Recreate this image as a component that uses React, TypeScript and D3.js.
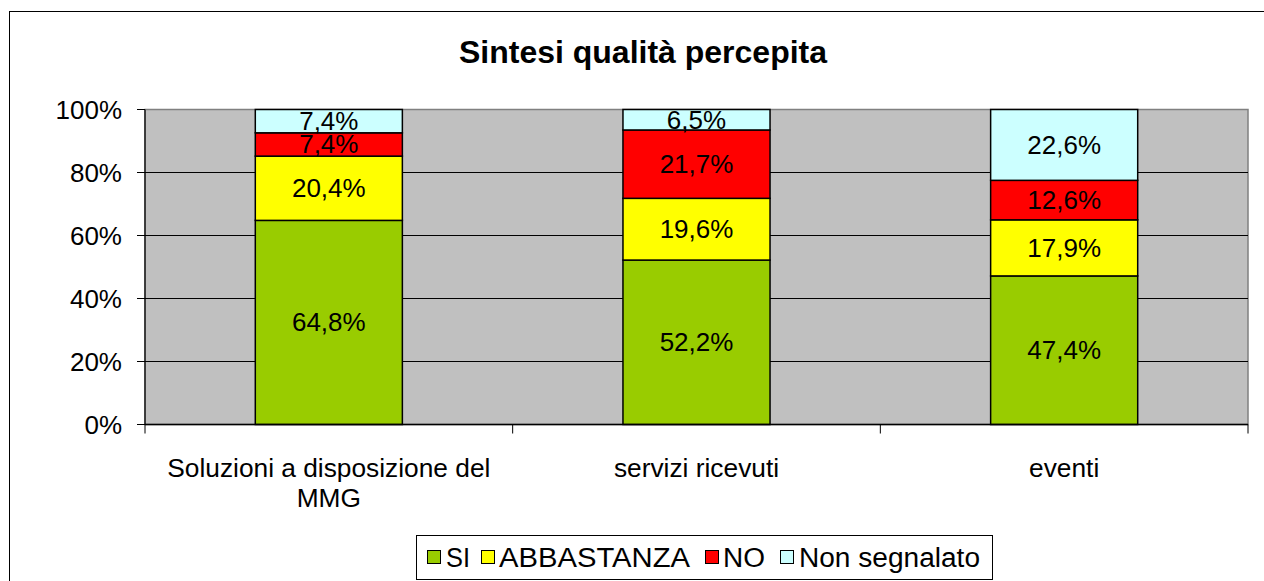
import React from "react";
import * as d3 from "d3";

const categories = ["Soluzioni a disposizione del MMG", "servizi ricevuti", "eventi"];
const categoryLines = [["Soluzioni a disposizione del", "MMG"], ["servizi ricevuti"], ["eventi"]];
const seriesNames = ["SI", "ABBASTANZA", "NO", "Non segnalato"];
const seriesColors = ["#99CC00", "#FFFF00", "#FF0000", "#CCFFFF"];
const siValues = [64.8, 52.2, 47.4];
const abbastanzaValues = [20.4, 19.6, 17.9];
const noValues = [7.4, 21.7, 12.6];
const nonSegnalatoValues = [7.4, 6.5, 22.6];
const yTicks = [0, 0.2, 0.4, 0.6, 0.8, 1];
const title = "Sintesi qualità percepita";

const FONT = "'Liberation Sans', Arial, sans-serif";

export default function App() {
  const W = 1264, H = 581;
  const left = 145, right = 1248, top = 109.5, bottom = 424.5;

  const rows = categories.map((c, i) => ({
    cat: c,
    "SI": siValues[i],
    "ABBASTANZA": abbastanzaValues[i],
    "NO": noValues[i],
    "Non segnalato": nonSegnalatoValues[i],
  }));
  const stack = d3.stack<any>().keys(seriesNames).offset(d3.stackOffsetExpand);
  const series = stack(rows);

  const x = d3.scaleBand<string>().domain(categories).range([left, right]).paddingInner(0.6).paddingOuter(0.3);
  const y = d3.scaleLinear().domain([0, 1]).range([bottom, top]);
  const fmt = (v: number) => v.toFixed(1).replace(".", ",") + "%";
  const step = x.step();
  const boundaries = d3.range(categories.length + 1).map((i) => left + i * step);

  // legend layout
  const legendItems = [
    { name: "SI", mx: 427, tx: 446, w: 24 },
    { name: "ABBASTANZA", mx: 481, tx: 499, w: 191 },
    { name: "NO", mx: 705, tx: 723, w: 42 },
    { name: "Non segnalato", mx: 780, tx: 799, w: 181 },
  ];

  return (
    <svg width={W} height={H} style={{ position: "absolute", left: 0, top: 0 }} fontFamily={FONT}>
      <rect x={0} y={0} width={W} height={H} fill="#fff" />
      <rect x={9.5} y={11.5} width={1300} height={700} fill="#fff" stroke="#000" strokeWidth={1} />
      <text x={643} y={63} textAnchor="middle" fontSize={32} fontWeight="bold" fill="#000">{title}</text>

      {/* plot area */}
      <rect x={left} y={top} width={right - left} height={bottom - top} fill="#C0C0C0" stroke="#808080" strokeWidth={1.5} />
      {yTicks.filter((t) => t > 0 && t < 1).map((t) => (
        <line key={t} x1={left} x2={right} y1={y(t)} y2={y(t)} stroke="#000" strokeWidth={1} />
      ))}
      {/* y axis */}
      <line x1={left} x2={left} y1={top} y2={bottom} stroke="#000" strokeWidth={1.2} />
      {yTicks.map((t) => (
        <g key={"yt" + t}>
          <line x1={left - 8} x2={left} y1={y(t)} y2={y(t)} stroke="#000" strokeWidth={1} />
          <text x={122} y={y(t) + 9} textAnchor="end" fontSize={26} fill="#000">{Math.round(t * 100) + "%"}</text>
        </g>
      ))}

      {/* bars */}
      {series.map((s, si) => (
        <g key={s.key}>
          {s.map((d, i) => {
            const y0 = y(d[0]), y1 = y(d[1]);
            const bx = x(categories[i])!;
            const raw = [siValues, abbastanzaValues, noValues, nonSegnalatoValues][si][i];
            return (
              <g key={i}>
                <rect x={bx} y={y1} width={x.bandwidth()} height={y0 - y1} fill={seriesColors[si]} stroke="#000" strokeWidth={1.5} />
                <text x={bx + x.bandwidth() / 2} y={(y0 + y1) / 2 + 9} textAnchor="middle" fontSize={26} fill="#000">{fmt(raw)}</text>
              </g>
            );
          })}
        </g>
      ))}

      {/* x axis */}
      <line x1={left} x2={right} y1={bottom} y2={bottom} stroke="#000" strokeWidth={1.5} />
      {boundaries.map((b, i) => (
        <line key={"xt" + i} x1={b} x2={b} y1={bottom} y2={bottom + 9} stroke="#000" strokeWidth={1} />
      ))}
      {categories.map((c, i) => (
        <text key={c} textAnchor="middle" fontSize={26.3} fill="#000">
          {categoryLines[i].map((ln, j) => (
            <tspan key={j} x={x(c)! + x.bandwidth() / 2} y={476.5 + j * 30}>{ln}</tspan>
          ))}
        </text>
      ))}

      {/* legend */}
      <rect x={416.5} y={535.5} width={576} height={44} fill="#fff" stroke="#000" strokeWidth={1} />
      {legendItems.map((it, i) => (
        <g key={it.name}>
          <rect x={it.mx + 0.5} y={550.5} width={13} height={13} fill={seriesColors[i]} stroke="#000" strokeWidth={1} />
          <text x={it.tx} y={567} fontSize={27} fill="#000" textLength={it.w} lengthAdjust="spacingAndGlyphs">{it.name}</text>
        </g>
      ))}
    </svg>
  );
}
